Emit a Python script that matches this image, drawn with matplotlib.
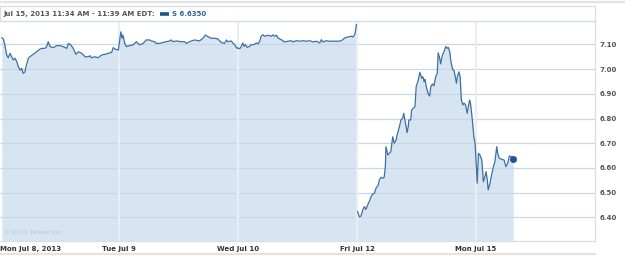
import matplotlib
matplotlib.use('Agg')
import matplotlib.pyplot as plt
import numpy as np

# S intraday, 5 sessions (Thu Jul 11 not shown)
day_labels = ['Mon Jul 8, 2013', 'Tue Jul 9', 'Wed Jul 10', 'Fri Jul 12', 'Mon Jul 15']

# minutes after open / price
mon8_min = [6, 11, 16, 22, 27, 33, 38, 44, 49, 55, 60, 66, 71, 76, 82, 85, 93, 98, 109, 120,
            131, 137, 147, 153, 158, 164, 175, 186, 197, 207, 219, 224, 232, 240, 249, 257,
            268, 279, 289, 295, 300, 311, 322, 333, 344, 355, 366, 371, 377, 388]
mon8_px = [7.127, 7.122, 7.098, 7.057, 7.046, 7.064, 7.050, 7.037, 7.044, 7.030, 7.010, 6.996,
           7.003, 6.983, 6.989, 7.010, 7.044, 7.050, 7.060, 7.070, 7.081, 7.084, 7.084, 7.091,
           7.111, 7.091, 7.087, 7.095, 7.095, 7.091, 7.084, 7.104, 7.098, 7.084, 7.060, 7.070,
           7.064, 7.050, 7.050, 7.054, 7.046, 7.050, 7.046, 7.057, 7.060, 7.064, 7.068, 7.087,
           7.081, 7.077]

tue9_min = [6, 10, 13, 19, 24, 35, 46, 57, 62, 68, 79, 89, 101, 106, 117, 122, 133, 144, 155,
            166, 171, 177, 188, 204, 215, 221, 226, 237, 248, 264, 275, 283, 292, 302, 314,
            324, 335, 346, 352, 357, 368, 374, 379, 384, 390]
tue9_px = [7.151, 7.125, 7.138, 7.104, 7.091, 7.095, 7.098, 7.111, 7.104, 7.098, 7.104, 7.118,
           7.118, 7.114, 7.111, 7.104, 7.104, 7.108, 7.111, 7.114, 7.118, 7.111, 7.114, 7.111,
           7.111, 7.104, 7.108, 7.114, 7.118, 7.114, 7.125, 7.138, 7.131, 7.125, 7.125, 7.122,
           7.108, 7.104, 7.118, 7.111, 7.114, 7.104, 7.100, 7.087, 7.084]

wed10_min = [0, 6, 11, 16, 20, 24, 30, 38, 44, 52, 60, 66, 71, 76, 82, 87, 98, 109, 115, 120,
             126, 131, 142, 153, 164, 175, 180, 191, 202, 213, 224, 235, 246, 257, 268, 273,
             279, 289, 301, 317, 328, 339, 350, 360, 371, 377, 382, 384, 388]
wed10_px = [7.085, 7.083, 7.092, 7.106, 7.092, 7.099, 7.088, 7.092, 7.099, 7.099, 7.106, 7.102,
            7.113, 7.133, 7.139, 7.133, 7.137, 7.133, 7.139, 7.133, 7.137, 7.126, 7.119, 7.110,
            7.113, 7.115, 7.110, 7.115, 7.113, 7.115, 7.113, 7.115, 7.110, 7.113, 7.106, 7.119,
            7.110, 7.115, 7.113, 7.113, 7.113, 7.115, 7.126, 7.130, 7.133, 7.130, 7.139, 7.146,
            7.180]

fri12_min = [2, 8, 13, 19, 24, 29, 35, 40, 46, 51, 57, 62, 70, 73, 79, 85, 89, 93, 95, 101,
             106, 111, 117, 122, 128, 133, 139, 144, 150, 153, 157, 161, 164, 168, 170, 176,
             179, 184, 190, 194, 201, 206, 212, 216, 220, 223, 227, 233, 238, 242, 247, 252,
             258, 263, 266, 271, 274, 280, 285, 291, 296, 299, 304, 307, 313, 318, 321, 326,
             329, 334, 338, 342, 347, 351, 356, 361, 365, 369, 372, 378, 383, 387]
fri12_px = [6.423, 6.402, 6.405, 6.430, 6.443, 6.432, 6.450, 6.463, 6.483, 6.494, 6.497, 6.517,
            6.531, 6.551, 6.562, 6.558, 6.562, 6.605, 6.686, 6.652, 6.659, 6.666, 6.726, 6.700,
            6.713, 6.740, 6.767, 6.794, 6.801, 6.821, 6.794, 6.767, 6.743, 6.767, 6.794, 6.794,
            6.834, 6.841, 6.848, 6.929, 6.956, 6.987, 6.963, 6.969, 6.949, 6.959, 6.929, 6.902,
            6.891, 6.929, 6.940, 6.932, 6.969, 6.983, 7.066, 7.044, 7.021, 7.057, 7.070, 7.091,
            7.084, 7.088, 7.070, 7.037, 6.999, 6.994, 6.976, 6.943, 6.969, 6.989, 6.969, 6.875,
            6.855, 6.862, 6.855, 6.821, 6.848, 6.875, 6.862, 6.794, 6.726, 6.700]

mon15_min = [4, 8, 13, 19, 24, 29, 33, 37, 40, 46, 51, 57, 62, 68, 71, 76, 84, 92, 98, 104,
             109, 117, 122]
mon15_px = [6.538, 6.659, 6.652, 6.632, 6.544, 6.564, 6.585, 6.551, 6.511, 6.538, 6.571, 6.605,
            6.625, 6.686, 6.659, 6.639, 6.635, 6.632, 6.605, 6.619, 6.648, 6.645, 6.635]

last_price = 6.6350
y_ticks = [6.40, 6.50, 6.60, 6.70, 6.80, 6.90, 7.00, 7.10]

sessions = [(mon8_min, mon8_px), (tue9_min, tue9_px), (wed10_min, wed10_px),
            (fri12_min, fri12_px), (mon15_min, mon15_px)]
xs = [i + np.array(m) / 390.0 for i, (m, p) in enumerate(sessions)]
ys = [np.array(p) for m, p in sessions]

W, H = 625, 257
fig = plt.figure(figsize=(W / 100, H / 100), dpi=100)
fig.patch.set_facecolor('white')

def fx(px):
    return px / W

def fy(py):
    return 1 - py / H

ax = fig.add_axes([0, fy(241), fx(595), fy(20.7) - fy(241)])
ymin, ymax = 6.304, 7.196
ax.set_xlim(0, 5.0)
ax.set_ylim(ymin, ymax)

line_c = '#3d6fa3'
fill_c = '#d6e5f1'

x_all = np.concatenate(xs)
y_all = np.concatenate(ys)
ax.fill_between(x_all, y_all, ymin, color=fill_c, lw=0, zorder=1)

# line breaks where Thursday is missing
xa = np.concatenate(xs[:3])
ya = np.concatenate(ys[:3])
xb = np.concatenate(xs[3:])
yb = np.concatenate(ys[3:])
ax.plot(xa, ya, color=line_c, lw=0.9, zorder=4)
ax.plot(xb, yb, color=line_c, lw=0.9, zorder=4)
ax.plot(xs[-1][-1], last_price, 'o', color='#1d5590', ms=4, zorder=5)

for t in y_ticks:
    ax.axhline(t, color='#cbd8e4', lw=0.9, zorder=2)
for d in range(1, 5):
    ax.axvline(d, color='#e8eef4', lw=1.6, zorder=3)

for s in ax.spines.values():
    s.set_color('#d5dfe8')
    s.set_linewidth(0.9)
ax.spines['left'].set_visible(False)

fs = 5.0
ax.yaxis.tick_right()
ax.set_yticks(y_ticks)
ax.set_yticklabels(['%.2f' % t for t in y_ticks])
ax.tick_params(axis='y', length=0, pad=3, labelsize=fs, labelcolor='#555555')
for lb in ax.get_yticklabels():
    lb.set_fontweight('bold')

ax.set_xticks(range(5))
ax.set_xticklabels(day_labels)
ax.tick_params(axis='x', length=0, pad=3.5, labelsize=fs, labelcolor='#333333')
for lb in ax.get_xticklabels():
    lb.set_fontweight('bold')
ax.get_xticklabels()[0].set_horizontalalignment('left')

ax.text(0.007, 0.03, '\u00a9 2013 Yahoo! Inc.', transform=ax.transAxes,
        fontsize=4.4, color='#b3c6d8', zorder=6)

# header box and separator lines
fig.patches.append(plt.Rectangle((0, fy(20.7)), fx(595), fy(6) - fy(20.7),
                                 transform=fig.transFigure, fill=False,
                                 ec='#d5dfe8', lw=0.9))
fig.add_artist(plt.Line2D([0, 1], [fy(1.7), fy(1.7)], color='#e3e3e3', lw=1.6))
fig.add_artist(plt.Line2D([0, fx(595)], [fy(254), fy(254)], color='#e3e3e3', lw=1.6))

fig.text(fx(3), fy(14), 'Jul 15, 2013 11:34 AM - 11:39 AM EDT:', fontsize=fs,
         fontweight='bold', color='#555555', va='center')
fig.add_artist(plt.Line2D([fx(160), fx(168.5)], [fy(13.6), fy(13.6)],
                          color='#1d5590', lw=2.6, solid_capstyle='butt'))
fig.text(fx(171.5), fy(14), 'S 6.6350', fontsize=fs, fontweight='bold',
         color='#2a64a0', va='center')

fig.savefig('out.png', dpi=100)
